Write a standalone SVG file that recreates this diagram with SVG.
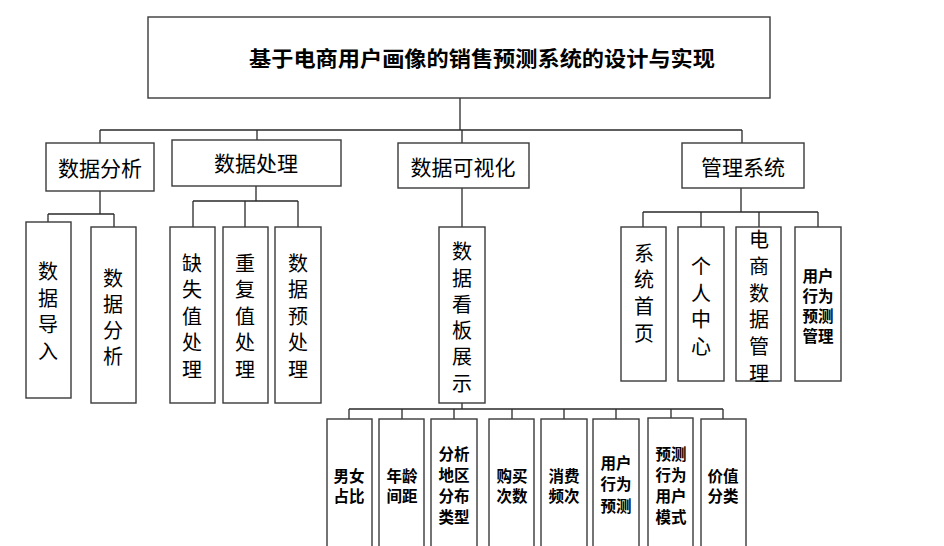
<svg xmlns="http://www.w3.org/2000/svg" width="944" height="546" viewBox="0 0 944 546">
<style>
.box{fill:#fff;stroke:#3a3a3a;stroke-width:1.4}
.ln{fill:none;stroke:#2a2a2a;stroke-width:1.3}
text{font-family:"Noto Sans CJK SC","Liberation Sans",sans-serif;fill:#000;text-anchor:middle;dominant-baseline:central}
.t0{font-size:21px;font-weight:bold}
.t1{font-size:21px}
.tv{font-size:20px}
.tb{font-size:15.5px;font-weight:bold}
</style>
<rect width="944" height="546" fill="#fff"/>
<g id="connectors">
<path class="ln" d="M460 98V130M100 130H742M100 130V143M257 130V140M462 130V143M742 130V143"/>
<path class="ln" d="M100 191V214M48 214H114M48 214V222M114 214V227"/>
<path class="ln" d="M256 186V201M193 201H298M193 201V227M245 201V227M298 201V227"/>
<path class="ln" d="M462 188V227"/>
<path class="ln" d="M741 188V212M643 212H818M643 212V227M701 212V227M759 212V227M818 212V227"/>
<path class="ln" d="M462 403V409M349 409H723M349 409V419M402 409V419M454 409V419M512 409V419M564 409V419M616 409V419M671 409V418M723 409V419"/>
</g>
<g id="root"><rect class="box" x="148" y="17" width="622" height="81"/><text class="t0" x="482" y="57" textLength="466" lengthAdjust="spacingAndGlyphs">基于电商用户画像的销售预测系统的设计与实现</text></g>
<g id="n-analysis"><rect class="box" x="46" y="143" width="108" height="48"/><text class="t1" x="100" y="167">数据分析</text></g>
<g id="n-process"><rect class="box" x="172" y="140" width="169" height="46"/><text class="t1" x="256" y="162">数据处理</text></g>
<g id="n-visual"><rect class="box" x="398" y="143" width="131" height="45"/><text class="t1" x="463" y="166">数据可视化</text></g>
<g id="n-manage"><rect class="box" x="682" y="143" width="122" height="45"/><text class="t1" x="743" y="166">管理系统</text></g>

<g id="n-import"><rect class="box" x="26" y="222" width="45" height="176"/><text class="tv"><tspan x="48" y="270">数</tspan><tspan x="48" y="297">据</tspan><tspan x="48" y="323">导</tspan><tspan x="48" y="350">入</tspan></text></g>
<g id="n-analysis2"><rect class="box" x="91" y="227" width="45" height="176"/><text class="tv"><tspan x="113" y="277">数</tspan><tspan x="113" y="303">据</tspan><tspan x="113" y="329">分</tspan><tspan x="113" y="355">析</tspan></text></g>
<g id="n-missing"><rect class="box" x="170" y="227" width="45" height="176"/><text class="tv"><tspan x="192" y="262">缺</tspan><tspan x="192" y="288">失</tspan><tspan x="192" y="315">值</tspan><tspan x="192" y="341">处</tspan><tspan x="192" y="368">理</tspan></text></g>
<g id="n-dup"><rect class="box" x="223" y="227" width="45" height="176"/><text class="tv"><tspan x="245" y="262">重</tspan><tspan x="245" y="288">复</tspan><tspan x="245" y="315">值</tspan><tspan x="245" y="341">处</tspan><tspan x="245" y="368">理</tspan></text></g>
<g id="n-pre"><rect class="box" x="275" y="227" width="46" height="176"/><text class="tv"><tspan x="298" y="262">数</tspan><tspan x="298" y="288">据</tspan><tspan x="298" y="315">预</tspan><tspan x="298" y="341">处</tspan><tspan x="298" y="368">理</tspan></text></g>
<g id="n-board"><rect class="box" x="439" y="227" width="46" height="176"/><text class="tv"><tspan x="462" y="250">数</tspan><tspan x="462" y="277">据</tspan><tspan x="462" y="303">看</tspan><tspan x="462" y="329">板</tspan><tspan x="462" y="355">展</tspan><tspan x="462" y="382">示</tspan></text></g>
<g id="n-home"><rect class="box" x="621" y="227" width="45" height="154"/><text class="tv"><tspan x="644" y="252">系</tspan><tspan x="644" y="278">统</tspan><tspan x="644" y="305">首</tspan><tspan x="644" y="332">页</tspan></text></g>
<g id="n-personal"><rect class="box" x="678" y="227" width="46" height="154"/><text class="tv"><tspan x="701" y="265">个</tspan><tspan x="701" y="292">人</tspan><tspan x="701" y="318">中</tspan><tspan x="701" y="345">心</tspan></text></g>
<g id="n-ecdata"><rect class="box" x="736" y="227" width="45" height="154"/><text class="tv"><tspan x="759" y="238">电</tspan><tspan x="759" y="265">商</tspan><tspan x="759" y="292">数</tspan><tspan x="759" y="318">据</tspan><tspan x="759" y="345">管</tspan><tspan x="759" y="372">理</tspan></text></g>
<g id="n-predmgr"><rect class="box" x="795" y="227" width="46" height="154"/><text class="tb"><tspan x="818" y="275">用户</tspan><tspan x="818" y="295">行为</tspan><tspan x="818" y="315">预测</tspan><tspan x="818" y="335">管理</tspan></text></g>

<g id="n-gender"><rect class="box" x="327" y="419" width="45" height="140"/><text class="tb"><tspan x="349" y="475">男女</tspan><tspan x="349" y="495">占比</tspan></text></g>
<g id="n-age"><rect class="box" x="379" y="419" width="45" height="140"/><text class="tb"><tspan x="402" y="475">年龄</tspan><tspan x="402" y="495">间距</tspan></text></g>
<g id="n-region"><rect class="box" x="431" y="419" width="46" height="140"/><text class="tb"><tspan x="454" y="453">分析</tspan><tspan x="454" y="474">地区</tspan><tspan x="454" y="495">分布</tspan><tspan x="454" y="516">类型</tspan></text></g>
<g id="n-buy"><rect class="box" x="489" y="419" width="45" height="140"/><text class="tb"><tspan x="512" y="475">购买</tspan><tspan x="512" y="495">次数</tspan></text></g>
<g id="n-freq"><rect class="box" x="541" y="419" width="46" height="140"/><text class="tb"><tspan x="564" y="475">消费</tspan><tspan x="564" y="495">频次</tspan></text></g>
<g id="n-behavior"><rect class="box" x="593" y="419" width="46" height="140"/><text class="tb"><tspan x="616" y="462">用户</tspan><tspan x="616" y="483">行为</tspan><tspan x="616" y="505">预测</tspan></text></g>
<g id="n-mode"><rect class="box" x="648" y="418" width="45" height="141"/><text class="tb"><tspan x="671" y="453">预测</tspan><tspan x="671" y="474">行为</tspan><tspan x="671" y="495">用户</tspan><tspan x="671" y="516">模式</tspan></text></g>
<g id="n-value"><rect class="box" x="701" y="419" width="45" height="140"/><text class="tb"><tspan x="723" y="475">价值</tspan><tspan x="723" y="495">分类</tspan></text></g>
</svg>
